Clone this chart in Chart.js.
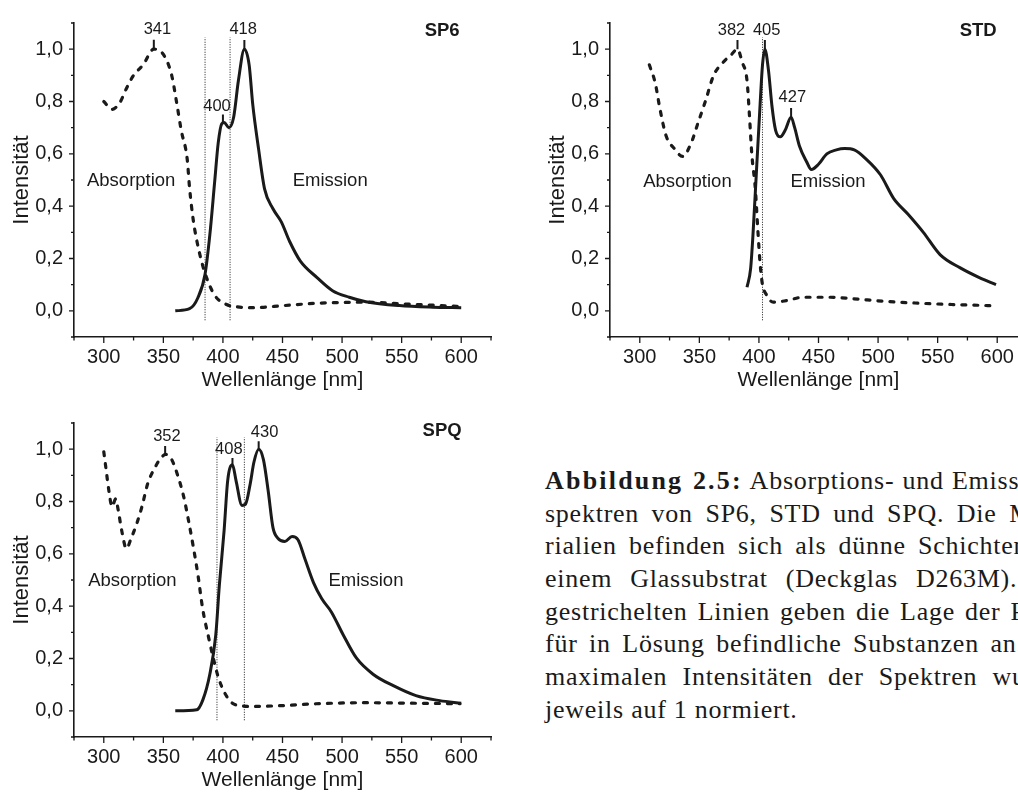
<!DOCTYPE html>
<html lang="de">
<head>
<meta charset="UTF-8">
<title>Absorptions- und Emissionsspektren</title>
<script src="https://cdn.jsdelivr.net/npm/chart.js@4.4.0/dist/chart.umd.min.js"></script>
<style>
    html, body { margin: 0; padding: 0; background: #fff; }
    body { width: 1018px; height: 795px; position: relative; overflow: hidden; }
    .panel { position: absolute; }
    #caption { position: absolute; left: 545px; top: 465px; width: 530px;
               font-family: "Liberation Serif", serif; font-size: 26px; letter-spacing: 0.75px; color: #1a1a1a; }
    #caption div { height: 32.7px; line-height: 32.7px; white-space: nowrap;
                   text-align: justify; text-align-last: justify; }
    #caption div.last { text-align-last: left; }
    #caption b { letter-spacing: 2.2px; }
</style>
</head>
<body>
<canvas id="sp6" class="panel" width="500" height="395" style="left:0;top:0"></canvas>
<canvas id="std" class="panel" width="500" height="395" style="left:536px;top:0"></canvas>
<canvas id="spq" class="panel" width="500" height="395" style="left:0;top:400px"></canvas>

<div id="caption">
    <div><b>Abbildung 2.5:</b> Absorptions- und Emissions-</div>
    <div>spektren von SP6, STD und SPQ. Die Mate-</div>
    <div>rialien befinden sich als dünne Schichten auf</div>
    <div>einem Glassubstrat (Deckglas D263M). Die</div>
    <div>gestrichelten Linien geben die Lage der Peaks</div>
    <div>für in Lösung befindliche Substanzen an. Die</div>
    <div>maximalen Intensitäten der Spektren wurden</div>
    <div class="last">jeweils auf 1 normiert.</div>
</div>

<script>
// axis ticks
const xMajor = [300, 350, 400, 450, 500, 550, 600];
const xMinor = [275, 325, 375, 425, 475, 525, 575, 625];
const yMajor = [0, 0.2, 0.4, 0.6, 0.8, 1.0];
const yMinor = [-0.1, 0.1, 0.3, 0.5, 0.7, 0.9, 1.1];

// SP6
const sp6AbsX = [300, 307, 314, 319, 325, 333, 342, 350, 357, 361, 365, 370, 372, 375, 378, 382, 386, 393, 403, 414, 426, 451, 479, 521, 549, 599];
const sp6AbsY = [0.80, 0.77, 0.80, 0.85, 0.90, 0.94, 1.00, 0.98, 0.90, 0.80, 0.69, 0.58, 0.47, 0.35, 0.27, 0.19, 0.13, 0.06, 0.024, 0.014, 0.012, 0.02, 0.029, 0.033, 0.027, 0.017];
const sp6EmX = [360, 372, 379, 385, 389, 393, 396, 399, 401, 405, 409, 413, 418, 422, 425, 430, 435, 442, 449, 456, 465, 479, 492, 506, 520, 548, 576, 600];
const sp6EmY = [0.0, 0.008, 0.05, 0.14, 0.29, 0.49, 0.64, 0.715, 0.72, 0.70, 0.74, 0.88, 1.0, 0.94, 0.79, 0.616, 0.465, 0.39, 0.34, 0.265, 0.19, 0.127, 0.077, 0.052, 0.035, 0.02, 0.014, 0.012];
const sp6Solution = [385, 406];

// STD
const stdAbsX = [308, 313, 317, 322, 329, 336, 343, 349, 355, 362, 370, 377, 382, 386, 390, 392, 394, 397, 399, 401, 403, 406, 412, 423, 437, 460, 479, 507, 535, 563, 594];
const stdAbsY = [0.94, 0.87, 0.77, 0.67, 0.62, 0.59, 0.64, 0.72, 0.80, 0.90, 0.95, 0.98, 1.0, 0.95, 0.88, 0.75, 0.60, 0.465, 0.315, 0.18, 0.10, 0.064, 0.033, 0.039, 0.052, 0.052, 0.046, 0.036, 0.029, 0.024, 0.02];
const stdEmX = [390, 393, 395, 398, 401, 403, 405, 408, 411, 414, 418, 422, 427, 430, 434, 440, 444, 450, 457, 465, 472, 480, 490, 502, 513, 525, 538, 552, 569, 585, 599];
const stdEmY = [0.09, 0.16, 0.29, 0.54, 0.79, 0.94, 1.0, 0.92, 0.78, 0.69, 0.665, 0.69, 0.74, 0.70, 0.63, 0.57, 0.54, 0.56, 0.60, 0.615, 0.62, 0.615, 0.58, 0.52, 0.43, 0.37, 0.30, 0.215, 0.164, 0.127, 0.10];
const stdSolution = [403];

// SPQ
const spqAbsX = [300, 302, 304, 307, 310, 312, 315, 319, 323, 328, 332, 337, 343, 347, 352, 357, 362, 367, 371, 375, 379, 383, 388, 392, 396, 402, 410, 425, 450, 478, 520, 562, 599];
const spqAbsY = [0.99, 0.92, 0.85, 0.78, 0.81, 0.77, 0.69, 0.62, 0.66, 0.72, 0.78, 0.87, 0.93, 0.96, 0.98, 0.96, 0.90, 0.82, 0.73, 0.63, 0.52, 0.39, 0.28, 0.20, 0.13, 0.064, 0.024, 0.017, 0.02, 0.027, 0.031, 0.029, 0.027];
const spqEmX = [360, 378, 383, 389, 394, 397, 401, 404, 408, 411, 416, 419, 423, 426, 430, 434, 438, 442, 446, 452, 458, 463, 469, 476, 483, 491, 501, 512, 526, 543, 562, 582, 600];
const spqEmY = [0.0, 0.004, 0.04, 0.14, 0.29, 0.48, 0.69, 0.88, 0.94, 0.88, 0.785, 0.79, 0.87, 0.95, 1.0, 0.96, 0.84, 0.70, 0.66, 0.647, 0.666, 0.654, 0.578, 0.49, 0.428, 0.378, 0.29, 0.202, 0.14, 0.096, 0.058, 0.039, 0.029];
const spqSolution = [395, 418];

// peak annotations: [text, nm, peak value, marker top, label nm, label value]
const sp6Peaks = [['341', 342, 1.0, 1.036, 345, 1.074], ['400', 400, 0.72, 0.75, 395, 0.78], ['418', 418, 1.0, 1.035, 417, 1.076]];
const stdPeaks = [['382', 382, 1.0, 1.035, 377, 1.072], ['405', 405, 1.0, 1.035, 406.5, 1.072], ['427', 427, 0.74, 0.775, 428, 0.814]];
const spqPeaks = [['352', 351.5, 0.98, 1.012, 353, 1.047], ['408', 408, 0.94, 0.966, 405, 0.997], ['430', 430, 1.0, 1.03, 435, 1.063]];

// text labels: [text, nm, value]
const sp6Labels = [['Absorption', 323, 0.498], ['Emission', 490, 0.498]];
const stdLabels = [['Absorption', 340, 0.494], ['Emission', 458, 0.494]];
const spqLabels = [['Absorption', 324, 0.498], ['Emission', 520, 0.498]];

const ink = '#1a1a1a';
const sans = '"Liberation Sans", Arial, sans-serif';

Chart.defaults.font.family = sans;
Chart.defaults.color = ink;
Chart.defaults.elements.point.radius = 0;

// draws tick marks, peak markers and the text inside the plot
const figureMarks = {
    id: 'figureMarks',
    afterDraw(chart, args, opts) {
        const { ctx, chartArea: a, scales: { x, y } } = chart;
        ctx.save();
        ctx.strokeStyle = ink;
        ctx.fillStyle = ink;
        ctx.lineWidth = 1.3;
        ctx.beginPath();
        xMajor.forEach(v => { const p = x.getPixelForValue(v); ctx.moveTo(p, a.bottom); ctx.lineTo(p, a.bottom + 6); });
        xMinor.forEach(v => { const p = x.getPixelForValue(v); ctx.moveTo(p, a.bottom); ctx.lineTo(p, a.bottom + 3.5); });
        yMajor.forEach(v => { const p = y.getPixelForValue(v); ctx.moveTo(a.left, p); ctx.lineTo(a.left - 5, p); });
        yMinor.forEach(v => { const p = y.getPixelForValue(v); ctx.moveTo(a.left, p); ctx.lineTo(a.left - 3, p); });
        ctx.stroke();

        ctx.lineWidth = 2;
        ctx.beginPath();
        opts.peaks.forEach(p => {
            const px = x.getPixelForValue(p[1]);
            ctx.moveTo(px, y.getPixelForValue(p[2]));
            ctx.lineTo(px, y.getPixelForValue(p[3]));
        });
        ctx.stroke();

        ctx.textAlign = 'center';
        ctx.textBaseline = 'middle';
        ctx.font = '16.5px ' + sans;
        opts.peaks.forEach(p => ctx.fillText(p[0], x.getPixelForValue(p[4]), y.getPixelForValue(p[5])));
        ctx.font = '18.5px ' + sans;
        opts.labels.forEach(l => ctx.fillText(l[0], x.getPixelForValue(l[1]), y.getPixelForValue(l[2])));
        ctx.font = 'bold 18.5px ' + sans;
        ctx.fillText(opts.name, x.getPixelForValue(584), y.getPixelForValue(1.07));
        ctx.restore();
    }
};

function pairs(xs, ys) {
    return xs.map((v, i) => ({ x: v, y: ys[i] }));
}

function spectrumChart(id, absX, absY, emX, emY, solution, peaks, labels, name) {
    const datasets = [
        { data: pairs(absX, absY), borderColor: ink, borderWidth: 3.2, borderDash: [4, 8],
          borderCapStyle: 'round', cubicInterpolationMode: 'monotone' },
        { data: pairs(emX, emY), borderColor: ink, borderWidth: 3, cubicInterpolationMode: 'monotone' }
    ];
    // dotted lines: peak positions of the dissolved substances
    solution.forEach(nm => datasets.push({
        data: [{ x: nm, y: -0.036 }, { x: nm, y: 1.045 }],
        borderColor: ink, borderWidth: 1, borderDash: [1, 1.5], tension: 0
    }));

    return new Chart(document.getElementById(id), {
        type: 'line',
        data: { datasets: datasets },
        plugins: [figureMarks],
        options: {
            responsive: false,
            animation: false,
            layout: { padding: { top: 19, right: 9, bottom: 0, left: 0 } },
            plugins: {
                legend: { display: false },
                tooltip: { enabled: false },
                figureMarks: { peaks: peaks, labels: labels, name: name }
            },
            scales: {
                x: {
                    type: 'linear', min: 275, max: 625,
                    afterBuildTicks: s => { s.ticks = xMajor.map(v => ({ value: v })); },
                    afterFit: s => { s.height = 58; },
                    grid: { display: false, drawTicks: false },
                    border: { display: true, color: ink, width: 1.6 },
                    ticks: { color: ink, font: { size: 20 }, padding: 8, maxRotation: 0, autoSkip: false },
                    title: { display: true, text: 'Wellenlänge [nm]', color: ink, font: { size: 21 },
                             padding: { top: 0, bottom: 2 } }
                },
                y: {
                    type: 'linear', min: -0.1, max: 1.1,
                    afterBuildTicks: s => { s.ticks = yMajor.map(v => ({ value: v })); },
                    afterFit: s => { s.width = 74; },
                    grid: { display: false, drawTicks: false },
                    border: { display: true, color: ink, width: 1.6 },
                    ticks: { color: ink, font: { size: 20 }, padding: 11, autoSkip: false,
                             callback: v => v.toFixed(1).replace('.', ',') },
                    title: { display: true, text: 'Intensität', color: ink, font: { size: 22 },
                             padding: { top: 9, bottom: 0 } }
                }
            }
        }
    });
}

spectrumChart('sp6', sp6AbsX, sp6AbsY, sp6EmX, sp6EmY, sp6Solution, sp6Peaks, sp6Labels, 'SP6');
spectrumChart('std', stdAbsX, stdAbsY, stdEmX, stdEmY, stdSolution, stdPeaks, stdLabels, 'STD');
spectrumChart('spq', spqAbsX, spqAbsY, spqEmX, spqEmY, spqSolution, spqPeaks, spqLabels, 'SPQ');
</script>
</body>
</html>
